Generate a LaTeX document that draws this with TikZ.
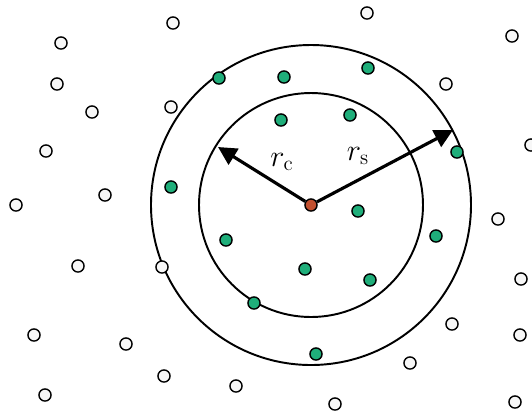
\documentclass[tikz,border=0pt]{standalone}
\usetikzlibrary{arrows.meta}
\definecolor{verde}{HTML}{1FAE7A}
\definecolor{rojo}{HTML}{C2502F}
\definecolor{blanco}{HTML}{F7F7F7}
\tikzset{
	punto/.style={circle, draw=black, line width=0.8pt, inner sep=0pt, minimum size=6.9pt},
	fuera/.style={punto, fill=blanco},
	dentro/.style={punto, fill=verde},
	centro/.style={punto, fill=rojo},
	radio/.style={line width=1.8pt, -{Triangle[length=10.5pt, width=10.5pt]}}
}
\begin{document}
\begin{tikzpicture}[x=0.02cm, y=-0.02cm, font=\fontsize{16.5}{20}\selectfont]
		\useasboundingbox (0,0) rectangle (532,414);
		% Circulos de corte
		\coordinate (o) at (311,205);
		\draw[line width=1.1pt] (o) circle[radius=112];
		\draw[line width=1.1pt] (o) circle[radius=160];
		% Particulas fuera
		\foreach \x/\y [count=\i] in {173/23, 61/43, 57/84, 92/112, 171/107, 46/151, 105/195,
			16/205, 367/13, 512/36, 446/84, 531/145, 78/266, 162/267, 34/335, 126/344, 164/376,
			45/395, 236/386, 498/219, 521/279, 452/324, 520/335, 410/363, 335/404, 515/402}
			\node[fuera] (f\i) at (\x,\y) {};
		% Particulas dentro
		\foreach \x/\y [count=\i] in {219/78, 171/187, 284/77, 368/68, 281/120, 350/115,
			457/152, 226/240, 254/303, 358/211, 436/236, 305/269, 370/280, 316/354}
			\node[dentro] (d\i) at (\x,\y) {};
		% Particula central y radios
		\node[centro] (c) at (o) {};
		\coordinate (tc) at (218,147);
		\coordinate (ts) at (453,130);
		\draw[radio] (c) -- (tc);
		\draw[radio] (c) -- (ts);
		\node (lc) at (282,162) {$r_\mathrm{c}$};
		\node (ls) at (358,156) {$r_\mathrm{s}$};
	\end{tikzpicture}
\end{document}
